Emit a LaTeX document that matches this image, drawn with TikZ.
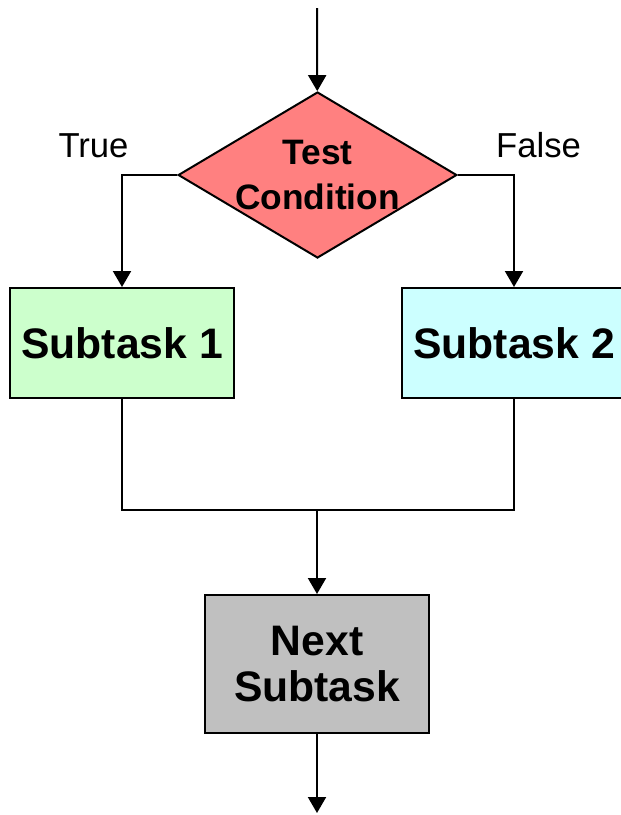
\documentclass[tikz,border=0pt]{standalone}
\usepackage{fontspec}
\setmainfont{Liberation Sans}
\usetikzlibrary{arrows.meta,shapes.geometric}
\definecolor{cond_red}{RGB}{255,128,128}
\definecolor{task_green}{RGB}{204,255,204}
\definecolor{task_cyan}{RGB}{204,255,255}
\definecolor{task_gray}{RGB}{192,192,192}

\begin{document}
\begin{tikzpicture}[->,line width=1.5pt,>={Triangle[length=12pt,width=13.5pt]},x=0.75pt,y=-0.75pt]
    \tikzstyle{box}=[draw=black, rectangle, minimum width=168pt, minimum height=82.5pt, inner sep=0pt, text=black, align=center, font=\bfseries\fontsize{32}{35}\selectfont]
    \tikzstyle{tone}=[style=box,fill=task_green]
    \tikzstyle{ttwo}=[style=box,fill=task_cyan]
    \tikzstyle{tnext}=[style=box,fill=task_gray,minimum height=103.5pt]
    \tikzstyle{test}=[draw=black, diamond, minimum width=209pt, minimum height=124.5pt, inner sep=0pt, fill=cond_red, text=black, align=center, font=\bfseries\fontsize{26.5}{33.75}\selectfont]
    \tikzstyle{lbl}=[anchor=base, inner sep=0pt, text=black, font=\fontsize{26}{30}\selectfont]
    \tikzstyle{hv}=[to path={-| (\tikztotarget)}]

    \useasboundingbox (0,0) rectangle (621,815);

    \coordinate (top)  at (317,8);
    \coordinate (join) at (317,510);
    \coordinate (bot)  at (317,813);

    \node[test]  (cond) at (317.5,175) {\makebox[0pt]{Test}\\\makebox[0pt]{Condition}};
    \node[tone]  (sub1) at (122,343)   {Subtask 1};
    \node[ttwo]  (sub2) at (514,343)   {Subtask 2};
    \node[tnext] (next) at (317,664)   {Next\\Subtask};

    \node[lbl] (true)  at (93.5,157)  {True};
    \node[lbl] (false) at (538.5,157) {False};

    \path
     (top) edge[] (cond)
     (cond) edge[hv] (sub1)
     (cond) edge[hv] (sub2)
     (join) edge[] (next)
     (next) edge[] (bot)
     ;
    \draw[-] (sub1) |- (join) -| (sub2);
  \end{tikzpicture}
\end{document}
